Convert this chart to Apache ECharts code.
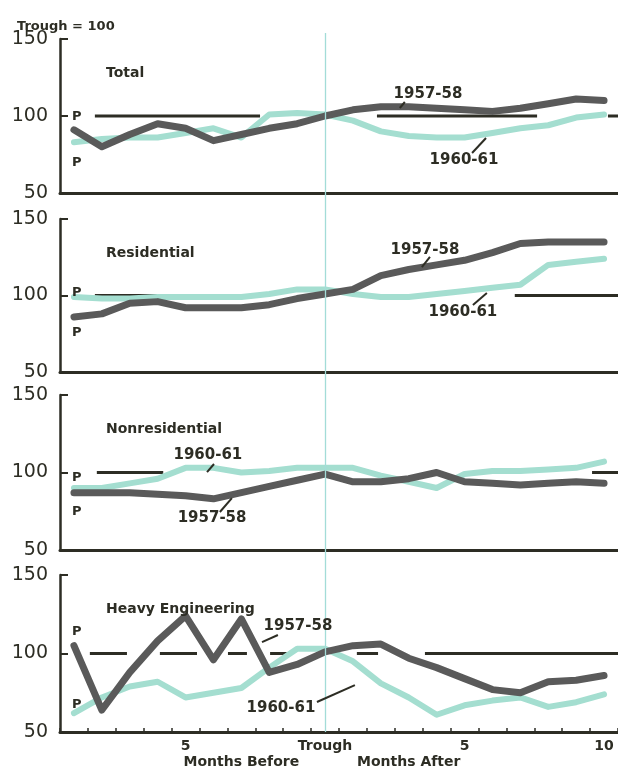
<!DOCTYPE html>
<html>
<head>
<meta charset="utf-8">
<script src="https://cdn.jsdelivr.net/npm/echarts@6/dist/echarts.min.js"></script>
<style>
html,body{margin:0;padding:0;background:#ffffff;}
#chart{width:618px;height:769px;}
</style>
</head>
<body>
<div id="chart"></div>
<script>
// Months relative to the trough (negative = before, positive = after)
const categories = ['-9','-8','-7','-6','-5','-4','-3','-2','-1','0','1','2','3','4','5','6','7','8','9','10'];
const xTickLabels = {'-5':'5','0':'Trough','5':'5','10':'10'};
const xCaptions = [['-3','Months Before'],['3','Months After']];
const yTicks = [50, 100, 150];
const troughLevel = 100;

const panelNames = ['Total','Residential','Nonresidential','Heavy Engineering'];

// Index, trough = 100
const total5758  = [91,80,88,95,92,84,88,92,95,100,104,106,106,105,104,103,105,108,111,110];
const total6061  = [83,85,86,86,89,92,86,101,102,101,97,90,87,86,86,89,92,94,99,101];
const res5758    = [86,88,95,96,92,92,92,94,98,101,104,113,117,120,123,128,134,135,135,135];
const res6061    = [99,98,98,99,99,99,99,101,104,104,101,99,99,101,103,105,107,120,122,124];
const nonres5758 = [87,87,87,86,85,83,87,91,95,99,94,94,96,100,94,93,92,93,94,93];
const nonres6061 = [90,90,93,96,103,103,100,101,103,103,103,98,94,90,99,101,101,102,103,107];
const heavy5758  = [105,64,88,108,124,96,122,88,93,101,105,106,97,91,84,77,75,82,83,86];
const heavy6061  = [62,72,79,82,72,75,78,91,103,103,95,81,72,61,67,70,72,66,69,74];

// Segments of the trough-level (100) reference line, in months
const totalRef  = [[-8.25,-2.33],[1.86,7.6],[10.14,10.5]];
const resRef    = [[-8.25,-2.87],[1.43,1.9],[6.8,10.5]];
const nonresRef = [[-8.18,-5.8],[9.57,10.5]];
const heavyRef  = [[-8.43,-7.1],[-5.92,-4.59],[-3.48,-2.8],[-1.97,-1.37],[1.14,1.9],[3.58,10.5]];

// "P" (peak) markers: [panel, month, value]
const peakMarks = [[0,-8.9,99.4],[0,-8.9,69.5],[1,-8.9,101.6],[1,-8.9,76],[2,-8.9,96.5],[2,-8.9,75],[3,-8.9,113.7],[3,-8.9,67.2]];
// Series labels: [panel, month, value, text]
const seriesLabels = [
  [0,3.69,114.3,'1957-58'],[0,4.98,71.4,'1960-61'],
  [1,3.58,129.7,'1957-58'],[1,4.94,89.2,'1960-61'],
  [2,-4.2,111.3,'1960-61'],[2,-4.05,70.6,'1957-58'],
  [3,-0.97,117.5,'1957-58'],[3,-1.58,65.3,'1960-61']
];
// Leader lines: [panel, m1, v1, m2, v2]
const leaders = [
  [0,2.68,105.2,2.86,109.1],[0,5.27,76,5.77,85.7],
  [1,3.47,118.6,3.76,125.2],[1,5.3,93.8,5.8,101.6],
  [2,-4.23,100.3,-3.98,105.5],[2,-3.77,74.5,-3.34,83.5],
  [3,-2.26,107.3,-1.69,111.8],[3,-0.29,69.1,1.07,79.9]
];

const panels = [
  {a: total5758, b: total6061, ref: totalRef},
  {a: res5758, b: res6061, ref: resRef},
  {a: nonres5758, b: nonres6061, ref: nonresRef},
  {a: heavy5758, b: heavy6061, ref: heavyRef}
];

const INK = '#2d2d24';
const DARK = '#5a5a5a';
const TEAL = '#a4ded0';
const FONT = '"DejaVu Sans", sans-serif';

const gridTops = [39, 219, 395, 575];
const gridHeights = [154, 153, 155, 157];

const grids = [], xAxes = [], yAxes = [], series = [], titles = [];

titles.push({text:'Trough = 100', left: 12, top: 15,
  textStyle:{fontSize:13, fontWeight:'bold', fontFamily:FONT, color:INK}});

panels.forEach((p, i) => {
  grids.push({left: 60, right: 0, top: gridTops[i], height: gridHeights[i]});
  titles.push({text: panelNames[i], left: 101, top: gridTops[i] + 22,
    textStyle:{fontSize:14, fontWeight:'bold', fontFamily:FONT, color:INK}});
  const last = i === 3;
  xAxes[i] = {
    type:'category', gridIndex:i, data: categories, boundaryGap:true,
    axisLine:{show:true, onZero:false, lineStyle:{color:INK, width:3}},
    axisTick: last ? {show:true, inside:true, length:4, interval:0, lineStyle:{color:INK, width:1.5}} : {show:false},
    axisLabel: last ? {
      show:true, margin:7, color:INK, fontFamily:FONT, fontSize:14, fontWeight:'bold',
      interval: (idx, val) => (val in xTickLabels),
      formatter: (val) => xTickLabels[val] || ''
    } : {show:false},
    splitLine:{show:false}
  };
  xAxes[4 + i] = {type:'value', gridIndex:i, min:-9.5, max:10.5, show:false};
  yAxes[i] = {
    type:'value', gridIndex:i, min:50, max:150, interval:50,
    axisLine:{show:true, onZero:false, lineStyle:{color:INK, width:2.5}},
    axisTick:{show:true, inside:true, length:8, lineStyle:{color:INK, width:2}},
    axisLabel:{show:true, margin:12, fontSize:19, fontFamily:FONT, color:INK,
      formatter: (v) => yTicks.indexOf(v) >= 0 ? String(v) : ''},
    splitLine:{show:false}
  };
  // reference line at trough level
  const refData = [];
  p.ref.forEach(seg => {
    refData.push([seg[0], troughLevel], [seg[1], troughLevel], [seg[1], '-']);
  });
  series.push({
    type:'line', xAxisIndex:4+i, yAxisIndex:i, data: refData, symbol:'none',
    connectNulls:false, silent:true, z:2,
    lineStyle:{color:INK, width:3}
  });
  series.push({
    name:'1960-61', type:'line', xAxisIndex:i, yAxisIndex:i, data:p.b, symbol:'none',
    silent:true, z:3, lineStyle:{color:TEAL, width:6, join:'round', cap:'round'}
  });
  series.push({
    name:'1957-58', type:'line', xAxisIndex:i, yAxisIndex:i, data:p.a, symbol:'none',
    silent:true, z:4, lineStyle:{color:DARK, width:7, join:'round', cap:'round'}
  });
});

// overlay grid for the trough vertical line through all panels
grids.push({left:60, right:0, top:33, height:699});
xAxes[8] = {type:'category', gridIndex:4, data:categories, boundaryGap:true, show:false};
yAxes[4] = {type:'value', gridIndex:4, min:0, max:1, show:false};
series.push({
  type:'line', xAxisIndex:8, yAxisIndex:4, data:[], silent:true, z:1,
  markLine:{symbol:'none', silent:true, label:{show:false},
    lineStyle:{color:'#a3dcd8', width:1.3, type:'solid'},
    data:[{xAxis:'0'}]}
});

const chart = echarts.init(document.getElementById('chart'), null, {renderer:'canvas'});
chart.setOption({
  backgroundColor:'#ffffff',
  animation:false,
  title: titles,
  grid: grids,
  xAxis: xAxes,
  yAxis: yAxes,
  series: series
});

function px(i, m, v) {
  return chart.convertToPixel({xAxisIndex: 4 + i, yAxisIndex: i}, [m, v]);
}
const graphics = [];
peakMarks.forEach(pm => {
  const pt = px(pm[0], pm[1], pm[2]);
  graphics.push({type:'text', z:100, style:{text:'P', x:pt[0], y:pt[1], align:'center', verticalAlign:'middle',
    font:'bold 13px "DejaVu Sans", sans-serif', fill:INK}});
});
seriesLabels.forEach(sl => {
  const pt = px(sl[0], sl[1], sl[2]);
  graphics.push({type:'text', z:100, style:{text:sl[3], x:pt[0], y:pt[1], align:'center', verticalAlign:'middle',
    font:'bold 15px "DejaVu Sans", sans-serif', fill:INK}});
});
leaders.forEach(ld => {
  const p1 = px(ld[0], ld[1], ld[2]);
  const p2 = px(ld[0], ld[3], ld[4]);
  graphics.push({type:'line', z:100, shape:{x1:p1[0], y1:p1[1], x2:p2[0], y2:p2[1]},
    style:{stroke:INK, lineWidth:2}});
});
// captions below the bottom axis, centred on their month
xCaptions.forEach(c => {
  const pt = px(3, Number(c[0]), 50);
  graphics.push({type:'text', z:100, style:{text:c[1], x:pt[0], y:pt[1] + 30, align:'center', verticalAlign:'middle',
    font:'bold 14px "DejaVu Sans", sans-serif', fill:INK}});
});
chart.setOption({graphic: graphics});
</script>
</body>
</html>
